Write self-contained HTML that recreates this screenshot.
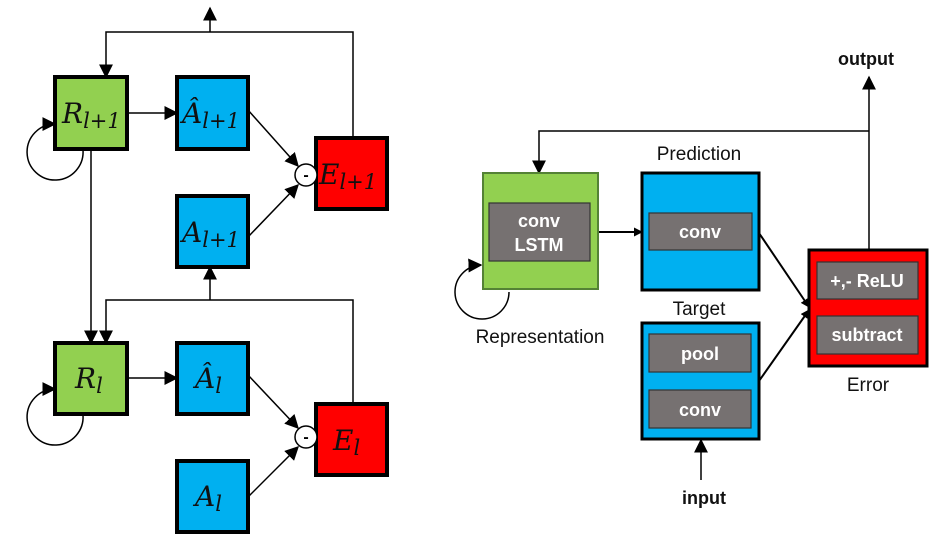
<!DOCTYPE html>
<html><head><meta charset="utf-8"><style>
body{margin:0;background:#fff;width:944px;height:547px;overflow:hidden}
</style></head><body>
<svg width="944" height="547" viewBox="0 0 944 547" xmlns="http://www.w3.org/2000/svg">
<defs>
<marker id="a" viewBox="0 0 10 10" refX="9" refY="5" markerWidth="9" markerHeight="9" markerUnits="userSpaceOnUse" orient="auto"><path d="M0,0L10,5L0,10z" fill="#000"/></marker>
<marker id="b" viewBox="0 0 10 10" refX="9" refY="5" markerWidth="14" markerHeight="14" markerUnits="userSpaceOnUse" orient="auto"><path d="M0,0L10,5L0,10z" fill="#000"/></marker>
</defs>
<g stroke="#000" stroke-width="1.5" fill="none">
<path d="M353,138V32H106V77" marker-end="url(#b)"/>
<path d="M210,32V8" marker-end="url(#b)"/>
<path d="M127,113H177" marker-end="url(#b)"/>
<path d="M248,110L298,166" marker-end="url(#b)"/>
<path d="M248,237L298,185" marker-end="url(#b)"/>
<path d="M91,149V343" marker-end="url(#b)"/>
<path d="M353,404V300H106V343" marker-end="url(#b)"/>
<path d="M210,300V267" marker-end="url(#b)"/>
<path d="M127,378H177" marker-end="url(#b)"/>
<path d="M248,375L298,428" marker-end="url(#b)"/>
<path d="M248,497L298,447" marker-end="url(#b)"/>
<path d="M83,150A28,28 0 1 1 55,124" marker-end="url(#b)"/>
<path d="M83,415A28,28 0 1 1 55,389" marker-end="url(#b)"/>
<path d="M869,250V77" marker-end="url(#b)"/>
<path d="M869,131H539V173" marker-end="url(#b)"/>
<path d="M598,232H642" marker-end="url(#a)" stroke-width="2"/>
<path d="M759,233L809,307" marker-end="url(#a)" stroke-width="2"/>
<path d="M759,381L809,310" marker-end="url(#a)" stroke-width="2"/>
<path d="M701,480V440" marker-end="url(#b)"/>
<path d="M509,292A27,27 0 1 1 481,265" marker-end="url(#b)"/>
</g>
<g stroke="#000" stroke-width="4">
<rect x="55" y="77" width="72" height="72" fill="#92d050"/>
<rect x="177" y="77" width="71" height="72" fill="#00b0f0"/>
<rect x="316" y="138" width="71" height="71" fill="#f00"/>
<rect x="177" y="196" width="71" height="71" fill="#00b0f0"/>
<rect x="55" y="343" width="72" height="71" fill="#92d050"/>
<rect x="177" y="343" width="71" height="71" fill="#00b0f0"/>
<rect x="316" y="404" width="71" height="71" fill="#f00"/>
<rect x="177" y="461" width="71" height="71" fill="#00b0f0"/>
</g>
<g stroke="#000" stroke-width="1.5" fill="#fff">
<circle cx="306" cy="175" r="11"/><circle cx="306" cy="437" r="11"/>
</g>
<g font-family="Liberation Sans" font-size="16" text-anchor="middle" font-weight="bold"><text x="306" y="180">-</text><text x="306" y="442">-</text></g>
<g font-family="DejaVu Serif, Liberation Serif, serif" font-style="italic" font-size="28" fill="#111">
<text x="62" y="123">R<tspan font-size="21" dy="5">l+1</tspan></text>
<text x="182" y="123">Â<tspan font-size="21" dy="5">l+1</tspan></text>
<text x="319" y="184">E<tspan font-size="21" dy="5">l+1</tspan></text>
<text x="182" y="242">A<tspan font-size="21" dy="5">l+1</tspan></text>
<text x="75" y="388">R<tspan font-size="21" dy="5">l</tspan></text>
<text x="195" y="388">Â<tspan font-size="21" dy="5">l</tspan></text>
<text x="333" y="450">E<tspan font-size="21" dy="5">l</tspan></text>
<text x="195" y="506">A<tspan font-size="21" dy="5">l</tspan></text>
</g>
<rect x="483" y="173" width="115" height="116" fill="#92d050" stroke="#548235" stroke-width="2"/>
<rect x="642" y="173" width="117" height="117" fill="#00b0f0" stroke="#000" stroke-width="3"/>
<rect x="642" y="323" width="117" height="116" fill="#00b0f0" stroke="#000" stroke-width="3"/>
<rect x="809" y="250" width="118" height="116" fill="#f00" stroke="#000" stroke-width="3"/>
<g fill="#767171" stroke="#333" stroke-width="1.2">
<rect x="489" y="203" width="101" height="58"/>
<rect x="649" y="213" width="103" height="37"/>
<rect x="649" y="334" width="102" height="38"/>
<rect x="649" y="390" width="102" height="38"/>
<rect x="817" y="262" width="101" height="37"/>
<rect x="817" y="316" width="101" height="38"/>
</g>
<g font-family="Liberation Sans, DejaVu Sans, sans-serif" font-weight="bold" font-size="18" fill="#fff" text-anchor="middle">
<text x="539" y="227">conv</text><text x="539" y="251">LSTM</text>
<text x="700" y="238">conv</text>
<text x="700" y="360">pool</text>
<text x="700" y="416">conv</text>
<text x="867" y="287">+,- ReLU</text>
<text x="867" y="341">subtract</text>
</g>
<g font-family="Liberation Sans, DejaVu Sans, sans-serif" font-size="19" fill="#111" text-anchor="middle">
<text x="699" y="160">Prediction</text>
<text x="699" y="315">Target</text>
<text x="540" y="343">Representation</text>
<text x="868" y="391">Error</text>
<text x="866" y="65" font-weight="bold" font-size="18">output</text>
<text x="704" y="504" font-weight="bold" font-size="18">input</text>
</g>
</svg>
</body></html>
